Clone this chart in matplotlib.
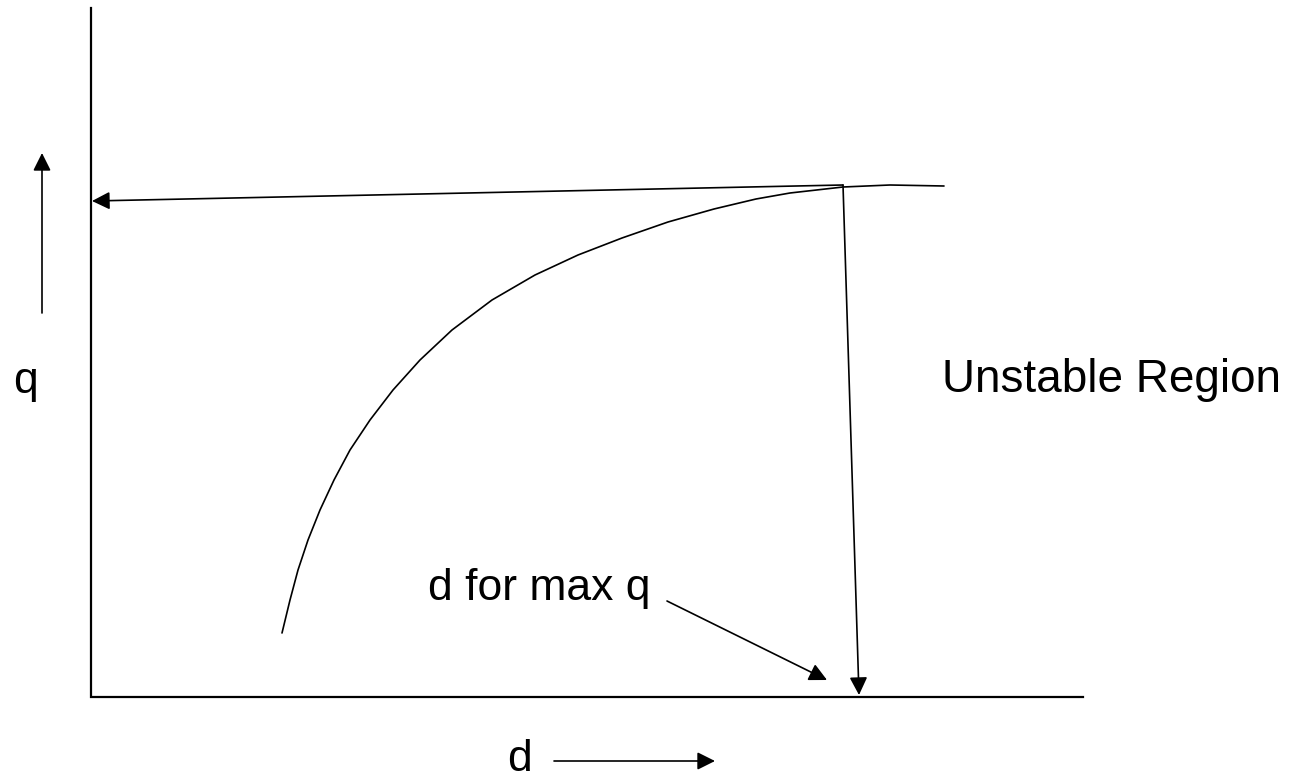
import matplotlib
matplotlib.use("Agg")
import matplotlib.pyplot as plt

# picture is laid out in pixel units (x right, y down)
curve_x = [282, 290, 298, 308, 320, 334, 350, 370, 393, 420, 452, 492,
           535, 578, 622, 668, 714, 756, 790, 843, 890, 944]
curve_y = [633, 600, 570, 540, 510, 480, 450, 420, 390, 360, 330, 300,
           275, 255, 238, 222, 209, 199, 193, 187, 185, 186]

axis_x = [91, 91, 1083]
axis_y = [8, 697, 697]

qmax_point = (843, 185)
qmax_on_axis = (92, 201)
dmax_on_axis = (859, 695)

font = ["Liberation Sans", "DejaVu Sans"]

fig = plt.figure(figsize=(13.03, 7.78), dpi=100)
ax = fig.add_axes([0, 0, 1, 1])
ax.set_xlim(0, 1303)
ax.set_ylim(778, 0)
ax.axis("off")

ax.plot(axis_x, axis_y, color="black", lw=1.6, solid_joinstyle="miter")
ax.plot(curve_x, curve_y, color="black", lw=1.2,
        solid_joinstyle="round", solid_capstyle="round")

arrow = dict(arrowstyle="-|>", color="black", lw=1.2, mutation_scale=27,
             shrinkA=0, shrinkB=0)

def draw_arrow(start, end):
    ax.annotate("", xy=end, xytext=start, arrowprops=arrow)

draw_arrow(qmax_point, qmax_on_axis)
draw_arrow(qmax_point, dmax_on_axis)
draw_arrow((667, 601), (827, 680))
draw_arrow((42, 313), (42, 153))
draw_arrow((554, 761), (715, 761))

ax.text(13, 393, "q", fontsize=32, family=font, ha="left", va="baseline")
ax.text(942, 392, "Unstable Region", fontsize=33, family=font,
        ha="left", va="baseline")
ax.text(650, 600, "d for max q", fontsize=32, family=font,
        ha="right", va="baseline")
ax.text(507, 771, "d", fontsize=32, family=font, ha="left", va="baseline")

fig.savefig("out.png", dpi=100)
